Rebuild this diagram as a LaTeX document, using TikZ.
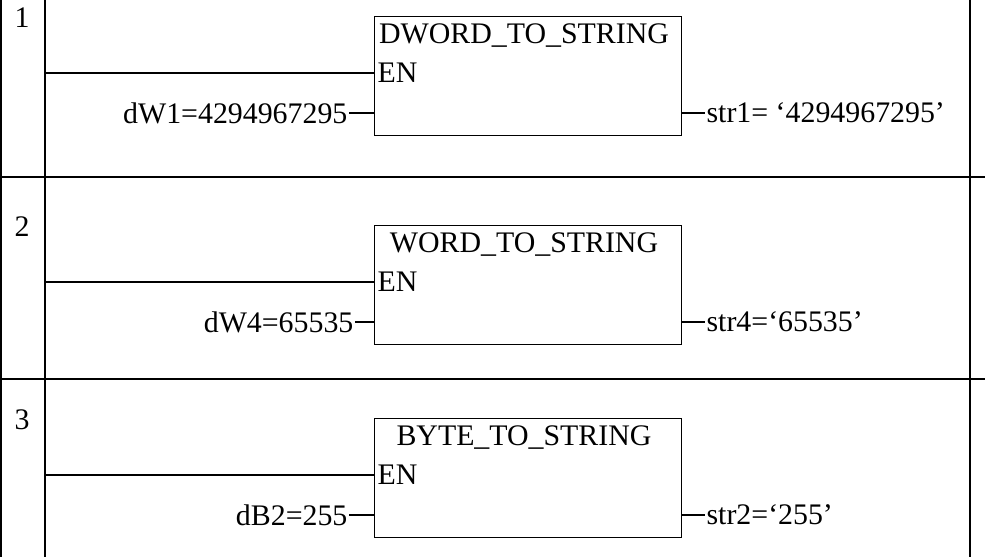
\documentclass[tikz,border=0pt]{standalone}
\usepackage{fontspec}
\setmainfont{Liberation Serif}
\usetikzlibrary{positioning}
\tikzset{
  fb/.style={draw, line width=0.8pt, minimum width=230.25pt, minimum height=89.25pt, inner sep=0pt},
  lbl/.style={inner sep=1pt, font=\fontsize{22.4}{26}\selectfont},
  wire/.style={line width=0.8pt}
}
\begin{document}
\begin{tikzpicture}[x=0.75pt,y=-0.75pt]
  \useasboundingbox (0,0) rectangle (985,557);
  % rails and rungs
  \draw[wire] (1,0) -- (1,557);
  \draw[wire] (45,0) -- (45,557);
  \draw[wire] (970,0) -- (970,557);
  \draw[wire] (1,177) -- (985,177);
  \draw[wire] (1,379) -- (985,379);
  \foreach \n/\yt/\yb/\name/\fin/\fout/\xi in
    {1/16/dw/DWORD\_TO\_STRING/dW1=4294967295/str1= `4294967295'/349,
     2/225/w/WORD\_TO\_STRING/dW4=65535/str4=`65535'/355,
     3/418/b/BYTE\_TO\_STRING/dB2=255/str2=`255'/349}
  {
    \node[lbl] (num\n) at (22,\yt+2) {\n};
    \node[fb, anchor=north west] (box\yb) at (374,\yt) {};
    \node[lbl] (title\yb) at (524,\yt+20) {\name};
    \node[lbl, anchor=west] (en\yb) at (376,\yt+57) {EN};
    \coordinate (rail\yb) at (45,\yt+57);
    \draw[wire] (rail\yb) -- (en\yb.west -| box\yb.west);
    \coordinate (in\yb) at (\xi,\yt+97);
    \coordinate (out\yb) at (705,\yt+97);
    \draw[wire] (in\yb) -- (in\yb -| box\yb.west);
    \draw[wire] (out\yb -| box\yb.east) -- (out\yb);
    \node[lbl, anchor=east] (fin\yb) at (in\yb) {\fin};
    \node[lbl, anchor=west] (fout\yb) at (out\yb) {\fout};
  }
\end{tikzpicture}
\end{document}
